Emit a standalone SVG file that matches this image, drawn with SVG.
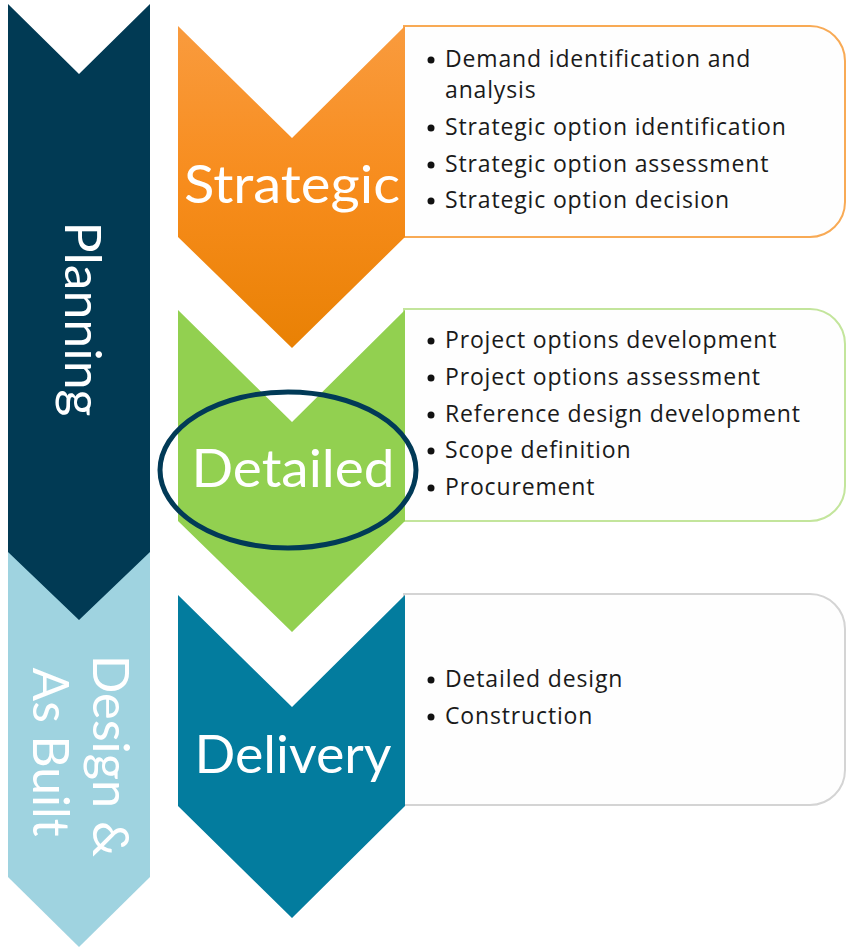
<svg xmlns="http://www.w3.org/2000/svg" width="846" height="951" viewBox="0 0 846 951">
<defs>
<linearGradient id="orangeGrad" x1="0" y1="0" x2="0" y2="1">
<stop offset="0" stop-color="#f99b3e"/>
<stop offset="0.5" stop-color="#f78c1c"/>
<stop offset="1" stop-color="#e98104"/>
</linearGradient>
<style>
.lbl{font-family:Lato,"Open Sans","Liberation Sans",sans-serif;fill:#ffffff;font-size:52px;text-anchor:middle}
.side{font-family:Lato,"Open Sans","Liberation Sans",sans-serif;fill:#ffffff;font-size:50px;text-anchor:middle}
.item{font-family:"Open Sans",Lato,"Liberation Sans",sans-serif;fill:#1a1a1a;font-size:23px;letter-spacing:0.85px}
.dot{fill:#111111}
.box{fill:#fefefe;stroke-width:2}
</style>
</defs>
<rect width="846" height="951" fill="#ffffff"/>

<g id="design-as-built">
<polygon points="8,540 150,540 150,877 79,947 8,877" fill="#9fd3e0"/>
<text class="side" transform="translate(93,756) rotate(90)" textLength="202" lengthAdjust="spacingAndGlyphs">Design &amp;</text>
<text class="side" transform="translate(33,752) rotate(90)" textLength="169" lengthAdjust="spacingAndGlyphs">As Built</text>
</g>

<g id="planning">
<polygon points="8,4 79,74 150,4 150,552 79,620 8,552" fill="#013a54"/>
<text class="side" transform="translate(65,319) rotate(90)" textLength="195" lengthAdjust="spacingAndGlyphs">Planning</text>
</g>

<g id="strategic">
<path class="box" d="M404,26 H810 A35,35 0 0 1 845,61 V202 A35,35 0 0 1 810,237 H404 Z" stroke="#f8aa55"/>
<polygon points="178,26 292,138 405,26 405,237 292,348 178,237" fill="url(#orangeGrad)"/>
<text class="lbl" x="292" y="203" textLength="216" lengthAdjust="spacingAndGlyphs">Strategic</text>
<circle class="dot" cx="431" cy="60" r="3.5"/>
<text class="item" x="445" y="67">Demand identification and</text>
<text class="item" x="445" y="98">analysis</text>
<circle class="dot" cx="431" cy="128" r="3.5"/>
<text class="item" x="445" y="135">Strategic option identification</text>
<circle class="dot" cx="431" cy="165" r="3.5"/>
<text class="item" x="445" y="172">Strategic option assessment</text>
<circle class="dot" cx="431" cy="201" r="3.5"/>
<text class="item" x="445" y="208">Strategic option decision</text>
</g>

<g id="detailed">
<path class="box" d="M404,309 H810 A35,35 0 0 1 845,344 V486 A35,35 0 0 1 810,521 H404 Z" stroke="#c3e59c"/>
<polygon points="178,310 292,422 405,310 405,521 292,632 178,521" fill="#92d050"/>
<text class="lbl" x="293" y="487" textLength="203" lengthAdjust="spacingAndGlyphs">Detailed</text>
<circle class="dot" cx="431" cy="341" r="3.5"/>
<text class="item" x="445" y="348">Project options development</text>
<circle class="dot" cx="431" cy="378" r="3.5"/>
<text class="item" x="445" y="385">Project options assessment</text>
<circle class="dot" cx="431" cy="415" r="3.5"/>
<text class="item" x="445" y="422">Reference design development</text>
<circle class="dot" cx="431" cy="451" r="3.5"/>
<text class="item" x="445" y="458">Scope definition</text>
<circle class="dot" cx="431" cy="488" r="3.5"/>
<text class="item" x="445" y="495">Procurement</text>
</g>

<g id="delivery">
<path class="box" d="M404,594 H810 A35,35 0 0 1 845,629 V770 A35,35 0 0 1 810,805 H404 Z" stroke="#d4d4d4"/>
<polygon points="178,595 292,707 405,595 405,806 292,918 178,806" fill="#037c9e"/>
<text class="lbl" x="293" y="773" textLength="197" lengthAdjust="spacingAndGlyphs">Delivery</text>
<circle class="dot" cx="431" cy="680" r="3.5"/>
<text class="item" x="445" y="687">Detailed design</text>
<circle class="dot" cx="431" cy="717" r="3.5"/>
<text class="item" x="445" y="724">Construction</text>
</g>

<g id="connectors">
<ellipse id="highlight" cx="288" cy="470" rx="128" ry="78" fill="none" stroke="#013a57" stroke-width="5"/>
</g>
</svg>
